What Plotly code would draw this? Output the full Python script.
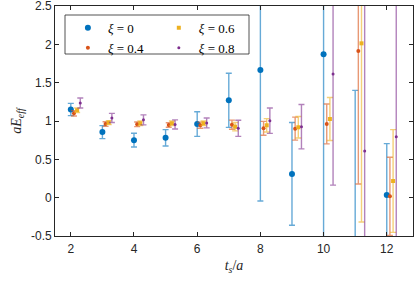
import plotly.graph_objects as go

ts = [2, 3, 4, 5, 6, 7, 8, 9, 10, 11, 12]
offsets = [0.0, 0.1, 0.2, 0.3]
names = ["<i>ξ</i> = 0", "<i>ξ</i> = 0.4", "<i>ξ</i> = 0.6", "<i>ξ</i> = 0.8"]

E_xi0 = [1.15, 0.855, 0.75, 0.78, 0.96, 1.27, 1.665, 0.31, 1.87, -1.2, 0.035]
dE_xi0 = [0.08, 0.085, 0.09, 0.107, 0.16, 0.353, 1.708, 0.67, 3.5, 2.6, 0.67]

E_xi04 = [1.10, 0.96, 0.957, 0.948, 0.945, 0.952, 0.905, 0.90, 0.961, 1.913, 0.018]
dE_xi04 = [0.035, 0.03, 0.03, 0.03, 0.04, 0.06, 0.09, 0.15, 0.26, 1.735, 0.51]

E_xi06 = [1.14, 0.98, 0.97, 0.97, 0.97, 0.926, 0.944, 0.918, 1.026, 2.013, 0.217]
dE_xi06 = [0.03, 0.025, 0.03, 0.03, 0.03, 0.055, 0.087, 0.14, 0.28, 2.33, 0.67]

E_xi08 = [1.235, 1.04, 1.015, 0.955, 0.975, 0.905, 1.004, 0.926, 1.613, 0.609, 0.795]
dE_xi08 = [0.065, 0.06, 0.065, 0.06, 0.065, 0.105, 0.165, 0.29, 1.45, 3.5, 3.5]

series = [
    (E_xi0, dE_xi0, (0, 114, 189), "circle", 6, "legend"),
    (E_xi04, dE_xi04, (217, 83, 25), "circle", 4, "legend"),
    (E_xi06, dE_xi06, (237, 177, 32), "square", 4, "legend2"),
    (E_xi08, dE_xi08, (126, 47, 142), "circle", 3, "legend2"),
]

fig = go.Figure()
for i, (E, dE, c, sym, sz, leg) in enumerate(series):
    x = [t + offsets[i] for t in ts]
    fig.add_trace(go.Scatter(
        x=x, y=E, mode="markers", name=names[i], legend=leg,
        marker=dict(color="rgb(%d,%d,%d)" % c, size=sz, symbol=sym),
        error_y=dict(type="data", array=dE, visible=True,
                     color="rgba(%d,%d,%d,0.6)" % c, thickness=1.4, width=3),
        cliponaxis=True,
    ))

axis_common = dict(
    showline=True, linecolor="#262626", linewidth=0.8, mirror="ticks",
    ticks="inside", ticklen=4, tickcolor="#262626", tickwidth=0.8,
    showgrid=False, zeroline=False, automargin=False,
    ticklabeloverflow="allow",
    tickfont=dict(family="Liberation Sans, Arial", size=12, color="#262626"),
)

leg_font = dict(family="Liberation Serif, DejaVu Serif", size=13, color="black")

fig.update_layout(
    template="none",
    width=415, height=284,
    margin=dict(l=55, r=2, t=6, b=48, autoexpand=False),
    plot_bgcolor="white", paper_bgcolor="white",
    showlegend=True,
    legend=dict(x=0.036, y=0.97, xanchor="left", yanchor="top",
                bgcolor="rgba(0,0,0,0)", borderwidth=0, font=leg_font,
                tracegroupgap=0, itemsizing="trace"),
    legend2=dict(x=0.29, y=0.97, xanchor="left", yanchor="top",
                 bgcolor="rgba(0,0,0,0)", borderwidth=0, font=leg_font,
                 tracegroupgap=0, itemsizing="trace"),
    shapes=[dict(type="rect", xref="paper", yref="paper",
                 x0=(65 - 55) / 358, x1=(249 - 55) / 358,
                 y0=1 - (54 - 6) / 230, y1=1 - (15 - 6) / 230,
                 line=dict(color="#262626", width=0.8), fillcolor="white",
                 layer="below")],
    xaxis=dict(range=[1.5, 12.83], tickvals=[2, 4, 6, 8, 10, 12],
               ticklabelstandoff=2,
               title=dict(text="<i>t</i><sub><i>s</i></sub>/<i>a</i>", standoff=4,
                          font=dict(family="Liberation Serif, DejaVu Serif", size=14, color="#262626")),
               **axis_common),
    yaxis=dict(range=[-0.5, 2.5], tickvals=[-0.5, 0, 0.5, 1, 1.5, 2, 2.5],
               ticktext=["-0.5", "0", "0.5", "1", "1.5", "2", "2.5"],
               title=dict(text="<i>aE</i><sub><i>eff</i></sub>", standoff=6,
                          font=dict(family="Liberation Serif, DejaVu Serif", size=14, color="#262626")),
               **axis_common),
)

fig.write_html("out.html", config={"displayModeBar": False},
               post_script="document.body.style.margin='0';document.body.style.overflow='hidden';")
